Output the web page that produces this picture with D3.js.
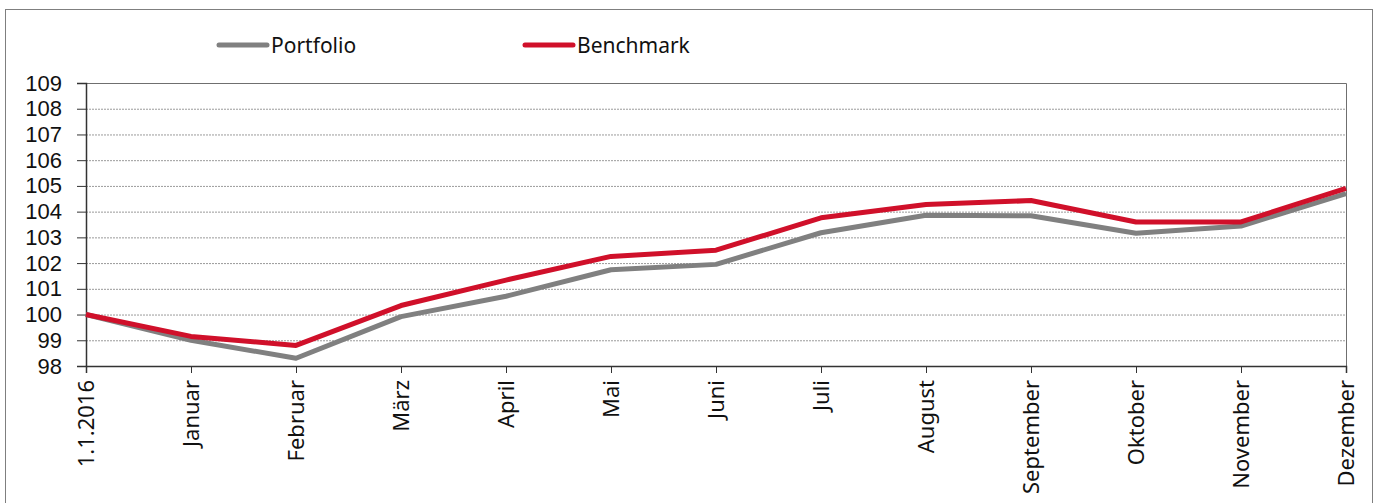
<!DOCTYPE html>
<html>
<head>
<meta charset="utf-8">
<script src="https://cdn.jsdelivr.net/npm/d3@7"></script>
<style>
  body { margin: 0; background: #fff; }
  text { fill: #111; }
</style>
</head>
<body>
<svg id="main-svg"></svg>
<script>
// DATA
const months = ["1.1.2016", "Januar", "Februar", "März", "April", "Mai", "Juni",
  "Juli", "August", "September", "Oktober", "November", "Dezember"];
const portfolio = [100, 99.0, 98.3, 99.92, 100.71, 101.74, 101.95, 103.18, 103.86, 103.84, 103.16, 103.44, 104.7];
const benchmark = [100, 99.15, 98.8, 100.35, 101.34, 102.26, 102.5, 103.76, 104.28, 104.43, 103.6, 103.6, 104.9];
const yTicks = [98, 99, 100, 101, 102, 103, 104, 105, 106, 107, 108, 109];
const seriesNames = ["Portfolio", "Benchmark"];
const seriesColors = ["#808080", "#d0102a"];

// FIXED
const W = 1381, H = 503;
const PLOT_LEFT = 86, PLOT_RIGHT = 1346, PLOT_TOP = 83, PLOT_BOTTOM = 366;
const FONT = "'Noto Sans', sans-serif";

const svg = d3.select("#main-svg").attr("width", W).attr("height", H);

// outer frame
svg.append("rect")
  .attr("x", 5.5).attr("y", 9.5)
  .attr("width", 1367).attr("height", 510)
  .attr("fill", "none").attr("stroke", "#7f7f7f").attr("stroke-width", 1);

const x = d3.scalePoint().domain(months).range([PLOT_LEFT, PLOT_RIGHT]);
const y = d3.scaleLinear().domain([98, 109]).range([PLOT_BOTTOM, PLOT_TOP]);

// gridlines
svg.append("g")
  .selectAll("line")
  .data(yTicks.slice(1, -1))
  .join("line")
  .attr("x1", PLOT_LEFT).attr("x2", PLOT_RIGHT)
  .attr("y1", d => y(d) + 0.5).attr("y2", d => y(d) + 0.5)
  .attr("stroke", "#9a9a9a").attr("stroke-width", 1)
  .attr("stroke-dasharray", "2,1");

// plot border top/right
svg.append("path")
  .attr("d", `M${PLOT_LEFT},${PLOT_TOP + 0.5}H${PLOT_RIGHT + 0.5}V${PLOT_BOTTOM}`)
  .attr("fill", "none").attr("stroke", "#6f6f6f").attr("stroke-width", 1);

// y axis
const yAxis = svg.append("g")
  .attr("transform", `translate(${PLOT_LEFT},0)`)
  .call(d3.axisLeft(y).tickValues(yTicks).tickSize(9).tickPadding(15).tickFormat(d3.format("d")));
yAxis.select(".domain").attr("stroke", "#333").attr("stroke-width", 1.5);
yAxis.selectAll(".tick line").attr("stroke", "#333");
// tighter line metrics so stacked labels don't collide
yAxis.selectAll("text")
  .style("font-family", "'Liberation Sans', Arial, sans-serif")
  .style("font-size", "22px");

// x axis
const xAxis = svg.append("g")
  .attr("transform", `translate(0,${PLOT_BOTTOM})`)
  .call(d3.axisBottom(x).tickSize(7).tickPadding(4));
xAxis.select(".domain").attr("stroke", "#333").attr("stroke-width", 1.5);
xAxis.selectAll(".tick line").attr("stroke", "#333");
xAxis.selectAll("text")
  .style("font-family", FONT)
  .style("font-size", "22px")
  .attr("transform", "rotate(-90)")
  .attr("text-anchor", "end")
  .attr("x", -14).attr("y", 0).attr("dy", "0.36em");

// lines
const line = d3.line()
  .x((d, i) => x(months[i]))
  .y(d => y(d));

[portfolio, benchmark].forEach((values, i) => {
  svg.append("path")
    .datum(values)
    .attr("d", line)
    .attr("fill", "none")
    .attr("stroke", seriesColors[i])
    .attr("stroke-width", 5)
    .attr("stroke-linejoin", "round");
});

// legend
const legendX = [217, 523];
seriesNames.forEach((name, i) => {
  const g = svg.append("g").attr("transform", `translate(${legendX[i]},45)`);
  g.append("line")
    .attr("x1", 2).attr("x2", 50)
    .attr("stroke", seriesColors[i]).attr("stroke-width", 5)
    .attr("stroke-linecap", "round");
  g.append("text")
    .attr("x", 54).attr("dy", "0.36em")
    .style("font-family", FONT)
    .style("font-size", "21px")
    .text(name);
});
</script>
</body>
</html>
